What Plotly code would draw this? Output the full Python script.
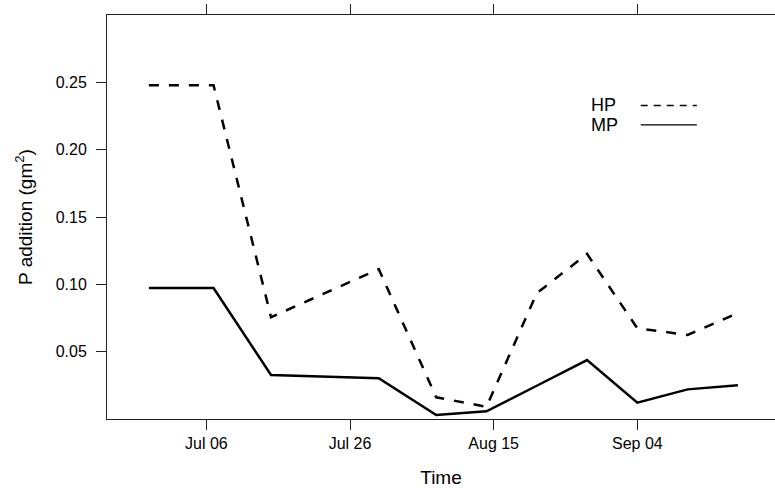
import plotly.graph_objects as go

# Sampling dates for the phosphorus additions
dates = ["2010-06-28", "2010-07-07", "2010-07-15", "2010-07-30", "2010-08-07",
         "2010-08-14", "2010-08-21", "2010-08-28", "2010-09-04", "2010-09-11",
         "2010-09-18"]

# P addition (g m^-2) per treatment
hp_values = [0.2478, 0.2478, 0.0756, 0.1113, 0.0161, 0.0091, 0.0934, 0.1226,
             0.0674, 0.0624, 0.0786]
mp_values = [0.0972, 0.0972, 0.0327, 0.0303, 0.0029, 0.0057, 0.0247, 0.0438,
             0.0121, 0.0220, 0.0250]

x_tick_vals = ["2010-07-06", "2010-07-26", "2010-08-15", "2010-09-04"]
x_tick_text = ["Jul 06", "Jul 26", "Aug 15", "Sep 04"]
y_tick_vals = [0.05, 0.10, 0.15, 0.20, 0.25]
y_tick_text = ["0.05", "0.10", "0.15", "0.20", "0.25"]

FONT = "Liberation Sans, Arial, Helvetica, sans-serif"
AXIS_COLOR = "#222222"

fig = go.Figure()
fig.add_trace(go.Scatter(x=dates, y=hp_values, mode="lines", name="HP",
                         line=dict(color="black", width=2.5, dash="10px,10px")))
fig.add_trace(go.Scatter(x=dates, y=mp_values, mode="lines", name="MP",
                         line=dict(color="black", width=2.5)))

# Key in the upper right: label followed by a line sample
key_items = [("HP", "7px,6px", 0.776), ("MP", "solid", 0.728)]
for label, dash, ky in key_items:
    fig.add_annotation(x=0.7218, y=ky, xref="paper", yref="paper", text=label,
                       showarrow=False, xanchor="left", yanchor="middle",
                       font=dict(family=FONT, size=18, color="black"))
    fig.add_shape(type="line", xref="paper", yref="paper",
                  x0=0.799, x1=0.883, y0=ky, y1=ky,
                  line=dict(color="black", width=1.3, dash=dash))

fig.update_layout(
    width=775, height=488,
    margin=dict(l=106.5, r=0, t=15, b=69),
    paper_bgcolor="white", plot_bgcolor="white",
    showlegend=False,
    font=dict(family=FONT, color="black"),
    xaxis=dict(
        type="date",
        range=["2010-06-22 04:00", "2010-09-23 04:00"],
        tickvals=x_tick_vals, ticktext=x_tick_text,
        ticks="outside", ticklen=10, tickwidth=1, tickcolor=AXIS_COLOR,
        showline=True, linecolor=AXIS_COLOR, linewidth=1, mirror="ticks",
        showgrid=False, zeroline=False,
        tickfont=dict(size=16, family=FONT, color="black"),
        title=dict(text="Time", font=dict(size=19, family=FONT, color="black"),
                   standoff=20),
    ),
    yaxis=dict(
        range=[0, 0.3],
        tickvals=y_tick_vals, ticktext=y_tick_text,
        ticks="outside", ticklen=10, tickwidth=1, tickcolor=AXIS_COLOR,
        showline=True, linecolor=AXIS_COLOR, linewidth=1,
        showgrid=False, zeroline=False,
        ticklabelstandoff=6,
        tickfont=dict(size=16, family=FONT, color="black"),
        title=dict(text="P addition (gm<sup>2</sup>)",
                   font=dict(size=19, family=FONT, color="black"),
                   standoff=18),
    ),
)

fig.write_html("out.html")
